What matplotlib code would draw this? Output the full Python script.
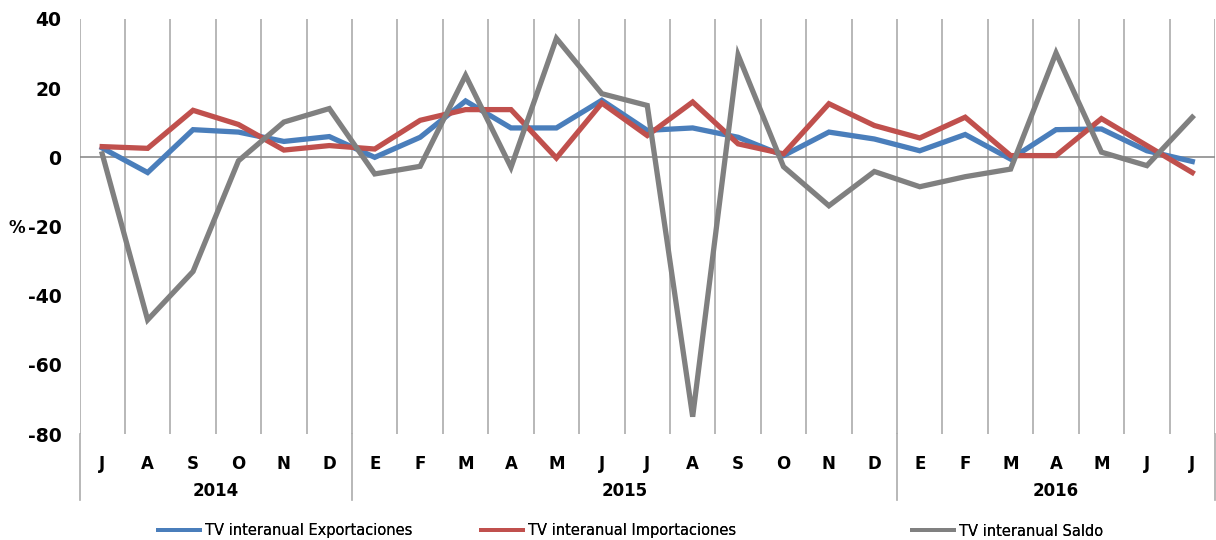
import matplotlib.pyplot as plt
from matplotlib.lines import Line2D

plt.rcParams['axes.unicode_minus'] = False

# Data (tasas de variación interanual, %)
months = ['J', 'A', 'S', 'O', 'N', 'D',
          'E', 'F', 'M', 'A', 'M', 'J', 'J', 'A', 'S', 'O', 'N', 'D',
          'E', 'F', 'M', 'A', 'M', 'J', 'J']
years = ['2014', '2015', '2016']
year_sizes = [6, 12, 7]

exportaciones = [2.7, -4.4, 8.0, 7.3, 4.6, 6.0,
                 0.0, 5.8, 16.3, 8.5, 8.5, 16.5, 7.8, 8.5, 5.8, 0.5, 7.3, 5.3,
                 1.9, 6.6, -0.5, 8.0, 8.2, 1.9, -1.2]
importaciones = [3.1, 2.6, 13.6, 9.5, 2.1, 3.4,
                 2.4, 10.7, 13.8, 13.8, -0.2, 15.7, 6.3, 16.0, 3.9, 1.0, 15.5, 9.2,
                 5.6, 11.6, 0.5, 0.5, 11.2, 3.4, -4.4]
saldo = [1.0, -47.0, -33.0, -1.0, 10.2, 14.1,
         -4.8, -2.6, 23.7, -2.9, 34.4, 18.4, 15.0, -75.0, 29.6, -2.7, -14.0, -4.1,
         -8.5, -5.6, -3.4, 30.2, 1.5, -2.4, 11.6]

series = [
    ('TV interanual Exportaciones', exportaciones, '#4a7ebb'),
    ('TV interanual Importaciones', importaciones, '#c0504d'),
    ('TV interanual Saldo', saldo, '#808080'),
]

fig = plt.figure(figsize=(12.16, 5.4), dpi=100)
ax = fig.add_axes([79.5 / 1216, 1 - 434 / 540, (1215 - 79.5) / 1216, 415 / 540])

n = len(months)
x = [i + 0.5 for i in range(n)]

# Vertical grid between categories
grid_col = '#ababab'
for b in range(n + 1):
    ax.axvline(b, color=grid_col, lw=1.2, zorder=1)
ax.axhline(0, color='#8c8c8c', lw=1.2, zorder=1)

# Year separators extend down through the label area
bounds = [0]
for s in year_sizes:
    bounds.append(bounds[-1] + s)
for b in bounds:
    ax.plot([b, b], [0, -66 / 415], color=grid_col, lw=1.2,
            transform=ax.get_xaxis_transform(), clip_on=False)

for label, vals, col in series:
    ax.plot(x, vals, color=col, lw=3.8, solid_joinstyle='miter', zorder=3)

ax.set_xlim(0, n)
ax.set_ylim(-80, 40)
ax.set_yticks(range(-80, 41, 20))
for s in ax.spines.values():
    s.set_visible(False)

ax.set_xticks(x)
ax.set_xticklabels(months, fontsize=12, fontweight='bold')
ax.tick_params(axis='x', length=0, pad=15)
ax.tick_params(axis='y', length=0, pad=13, labelsize=13.5)
for t in ax.get_yticklabels():
    t.set_fontweight('bold')

# Year labels
for i, yr in enumerate(years):
    xc = (bounds[i] + bounds[i + 1]) / 2
    ax.text(xc, -57 / 415, yr, transform=ax.get_xaxis_transform(),
            ha='center', va='center', fontsize=12, fontweight='bold')

fig.text(17 / 1216, 1 - 228 / 540, '%', ha='center', va='center',
         fontsize=12, fontweight='bold')

# Legend entries
leg_x = [158, 481, 912]
for (label, vals, col), lx in zip(series, leg_x):
    h = Line2D([], [], color=col, lw=2.8)
    lg = fig.legend([h], [label], loc='center left',
                    bbox_to_anchor=(lx / 1216, 1 - 531 / 540),
                    frameon=False, fontsize=10.5, handlelength=2.9,
                    handletextpad=0.3, borderpad=0, borderaxespad=0)
    fig.add_artist(lg)

fig.savefig('out.png', dpi=100)
